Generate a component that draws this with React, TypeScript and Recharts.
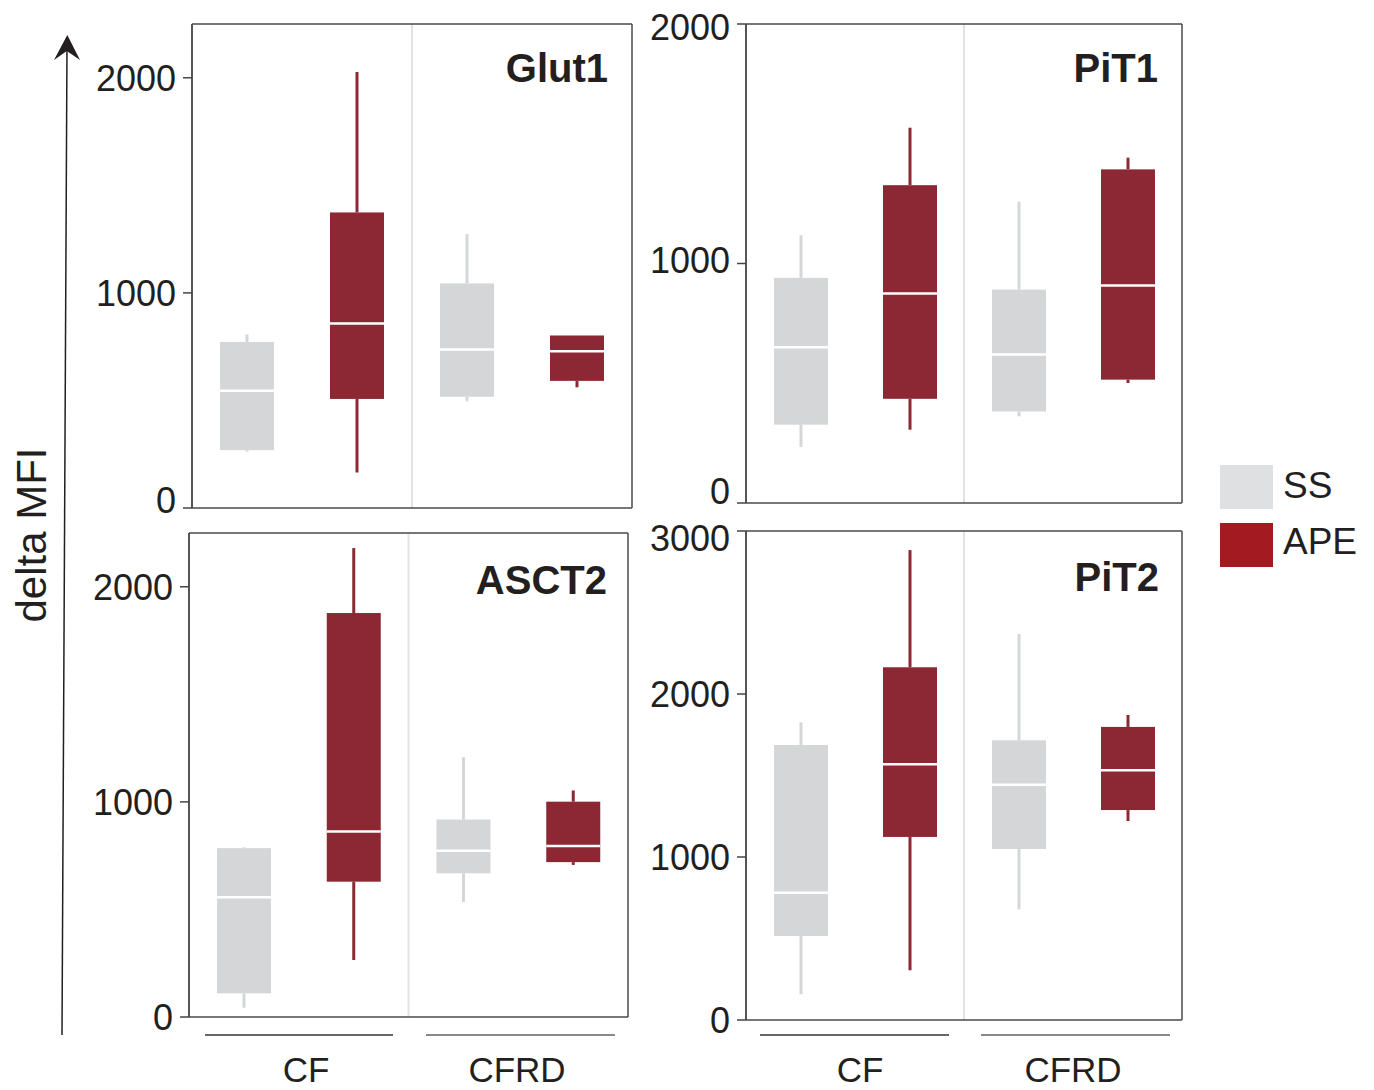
import { Bar, CartesianGrid, ComposedChart, XAxis, YAxis } from 'recharts';

// box stats per category: [min, q1, median, q3, max]
const categories = ['CF-SS', 'CF-APE', 'CFRD-SS', 'CFRD-APE'];
const groups = ['SS', 'APE', 'SS', 'APE'];

const glut1Stats = [
  [262, 269, 545, 772, 807],
  [165, 507, 858, 1374, 2027],
  [496, 517, 737, 1044, 1273],
  [561, 591, 729, 802, 802],
];
const pit1Stats = [
  [234, 327, 650, 940, 1118],
  [306, 435, 875, 1327, 1567],
  [362, 382, 620, 891, 1258],
  [501, 515, 908, 1393, 1442],
];
const asct2Stats = [
  [43, 110, 557, 785, 789],
  [265, 629, 862, 1878, 2180],
  [535, 668, 773, 918, 1208],
  [707, 720, 795, 1001, 1053],
];
const pit2Stats = [
  [158, 515, 781, 1687, 1826],
  [305, 1123, 1569, 2164, 2883],
  [679, 1049, 1444, 1716, 2368],
  [1221, 1288, 1532, 1798, 1871],
];

const ticks2000 = [0, 1000, 2000];
const ticks3000 = [0, 1000, 2000, 3000];

const FONT = '"Liberation Sans", Arial, Helvetica, sans-serif';
const TEXT = '#231f20';
const FRAME = '#4a4a4a';
const BOX_COLORS: Record<string, string> = { SS: '#d5d6d8', APE: '#8c2833' };

const toRows = (stats: number[][]) =>
  stats.map((s, i) => ({
    name: categories[i],
    group: groups[i],
    min: s[0],
    q1: s[1],
    median: s[2],
    q3: s[3],
    max: s[4],
  }));

function BoxShape(props: any) {
  const { x, y, width, height, payload } = props;
  if (!payload) return null;
  const top = Math.min(y, y + height);
  const bottom = Math.max(y, y + height);
  const span = payload.max - payload.min;
  const pix = (v: number) => bottom - ((v - payload.min) / span) * (bottom - top);
  const cx = x + width / 2;
  const color = BOX_COLORS[payload.group];
  const yq3 = pix(payload.q3);
  const yq1 = pix(payload.q1);
  const ymed = pix(payload.median);
  return (
    <g>
      <line x1={cx} x2={cx} y1={top} y2={yq3} stroke={color} strokeWidth={3} />
      <line x1={cx} x2={cx} y1={yq1} y2={bottom} stroke={color} strokeWidth={3} />
      <rect x={x} y={yq3} width={width} height={yq1 - yq3} fill={color} />
      <line x1={x} x2={x + width} y1={ymed} y2={ymed} stroke="#ffffff" strokeWidth={2.5} />
    </g>
  );
}

// y tick with an optional vertical nudge per value (the figure shifts a few labels)
function makeTick(shift: Record<number, number>) {
  return (props: any) => {
    const { x, y, payload } = props;
    const dy = shift[payload.value] || 0;
    return (
      <text
        x={x}
        y={y + dy}
        dy="0.36em"
        textAnchor="end"
        fontSize={36}
        fill={TEXT}
        fontFamily={FONT}
      >
        {payload.value}
      </text>
    );
  };
}

type PanelProps = {
  stats: number[][];
  left: number;
  top: number;
  w: number;
  h: number;
  yMax: number;
  ticks: number[];
  shift?: Record<number, number>;
};

function Panel({ stats, left, top, w, h, yMax, ticks, shift = {} }: PanelProps) {
  const axisW = 130;
  const mTop = 25;
  const mBottom = 25;
  const mRight = 10;
  return (
    <div style={{ position: 'absolute', left: left - axisW, top: top - mTop }}>
      <ComposedChart
        width={w + axisW + mRight}
        height={h + mTop + mBottom}
        data={toRows(stats)}
        margin={{ top: mTop, right: mRight, bottom: mBottom, left: 0 }}
        barCategoryGap={0}
      >
        {/* light divider between CF and CFRD */}
        <CartesianGrid
          horizontal={false}
          stroke="#e2e2e2"
          strokeWidth={2}
          verticalCoordinatesGenerator={({ offset }: any) => [offset.left + offset.width / 2]}
        />
        {/* panel frame */}
        <CartesianGrid
          stroke={FRAME}
          strokeWidth={1.5}
          verticalCoordinatesGenerator={({ offset }: any) => [offset.left, offset.left + offset.width]}
          horizontalCoordinatesGenerator={({ offset }: any) => [offset.top, offset.top + offset.height]}
        />
        <XAxis dataKey="name" type="category" hide />
        <YAxis
          type="number"
          domain={[0, yMax]}
          ticks={ticks}
          interval={0}
          width={axisW}
          axisLine={{ stroke: FRAME, strokeWidth: 1.5 }}
          tickSize={9}
          tickMargin={7}
          tickLine={{ stroke: '#444', strokeWidth: 1.5 }}
          tick={makeTick(shift)}
        />
        <Bar
          dataKey={(d: any) => [d.min, d.max]}
          barSize={54}
          isAnimationActive={false}
          shape={(p: any) => <BoxShape {...p} />}
        />
      </ComposedChart>
    </div>
  );
}

export default function App() {
  return (
    <div
      style={{
        position: 'absolute',
        left: 0,
        top: 0,
        width: 1374,
        height: 1090,
        background: '#fff',
        fontFamily: FONT,
        overflow: 'hidden',
      }}
    >
      <Panel stats={glut1Stats} left={192} top={24} w={440} h={484} yMax={2250} ticks={ticks2000} shift={{ 0: -8 }} />
      <Panel stats={pit1Stats} left={746} top={24} w={436} h={479} yMax={2000} ticks={ticks2000} shift={{ 0: -12, 1000: -3, 2000: 3 }} />
      <Panel stats={asct2Stats} left={189} top={533} w={439} h={484} yMax={2250} ticks={ticks2000} />
      <Panel stats={pit2Stats} left={746} top={531} w={436} h={489} yMax={3000} ticks={ticks3000} shift={{ 3000: 7 }} />

      <svg
        width={1374}
        height={1090}
        style={{ position: 'absolute', left: 0, top: 0, pointerEvents: 'none' }}
      >
        <g fontFamily={FONT} fill={TEXT}>
          {/* panel titles */}
          <text x={608} y={82} textAnchor="end" fontSize={40} fontWeight="bold">Glut1</text>
          <text x={1158} y={82} textAnchor="end" fontSize={40} fontWeight="bold">PiT1</text>
          <text x={607} y={594} textAnchor="end" fontSize={40} fontWeight="bold">ASCT2</text>
          <text x={1159} y={591} textAnchor="end" fontSize={40} fontWeight="bold">PiT2</text>

          {/* y label + arrow */}
          <text x={46} y={535} textAnchor="middle" fontSize={42} transform="rotate(-90 46 535)">delta MFI</text>
          <line x1={62} y1={1035} x2={67} y2={45} stroke={TEXT} strokeWidth={1.5} />
          <polygon points="67.3,35 54,60 66.8,51 80,60" fill={TEXT} />

          {/* group labels */}
          <line x1={205} x2={393} y1={1035} y2={1035} stroke="#333" strokeWidth={1.5} />
          <line x1={426} x2={615} y1={1035} y2={1035} stroke="#888" strokeWidth={2} />
          <line x1={760} x2={949} y1={1035} y2={1035} stroke="#333" strokeWidth={1.5} />
          <line x1={981} x2={1170} y1={1035} y2={1035} stroke="#888" strokeWidth={2} />
          <text x={306} y={1082} textAnchor="middle" fontSize={35}>CF</text>
          <text x={517} y={1082} textAnchor="middle" fontSize={35}>CFRD</text>
          <text x={860} y={1082} textAnchor="middle" fontSize={35}>CF</text>
          <text x={1073} y={1082} textAnchor="middle" fontSize={35}>CFRD</text>

          {/* legend */}
          <rect x={1220} y={465} width={53} height={44} fill="#dfe0e2" />
          <rect x={1220} y={523} width={53} height={44} fill="#a31b21" />
          <text x={1283} y={498} fontSize={37}>SS</text>
          <text x={1283} y={554} fontSize={37}>APE</text>
        </g>
      </svg>
    </div>
  );
}
